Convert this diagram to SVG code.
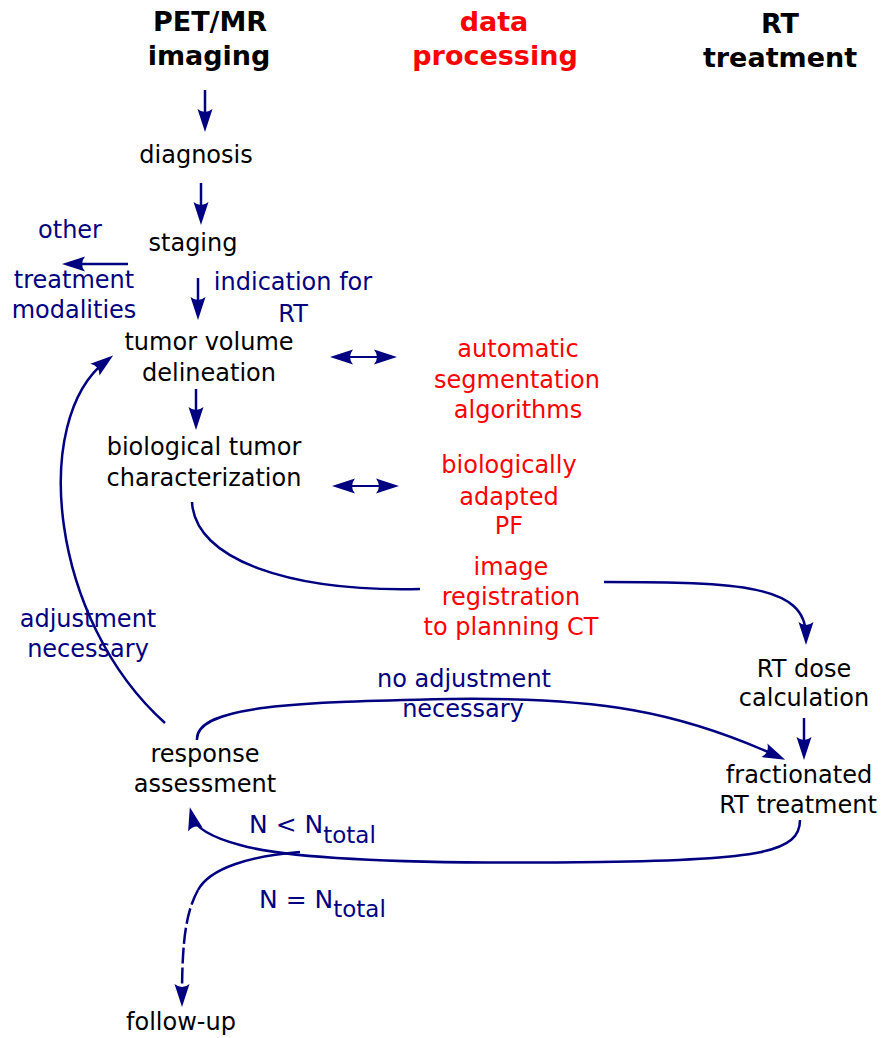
<svg xmlns="http://www.w3.org/2000/svg" width="883" height="1038" viewBox="0 0 883 1038">
<style>
text{font-family:"DejaVu Sans","Liberation Sans",sans-serif;font-size:24px;text-anchor:middle}
.h{font-weight:bold;font-size:27px;fill:#000}
.k{fill:#000}
.n{fill:#000080}
.r{fill:#ff0000}
.c{fill:none;stroke:#000080;stroke-width:2.5}
.d{stroke-width:2}
.s{font-size:25px;text-anchor:start}
</style>
<defs>
<marker id="ah" markerUnits="userSpaceOnUse" markerWidth="40" markerHeight="40" refX="0" refY="0" orient="auto-start-reverse" overflow="visible">
<path d="M9,0 L-14,-7.5 Q-8,0 -14,7.5 Z" fill="#000080"/>
</marker>
</defs>
<g id="headers">
<text class="h" x="210" y="31">PET/MR</text>
<text class="h" x="209" y="65">imaging</text>
<text class="h r" x="494" y="31">data</text>
<text class="h r" x="495" y="65">processing</text>
<text class="h" x="780" y="33">RT</text>
<text class="h" x="780" y="67">treatment</text>
</g>
<g id="diagnosis"><text class="k" x="196" y="163">diagnosis</text></g>
<g id="staging"><text class="k" x="193" y="251">staging</text></g>
<g id="other"><text class="n" x="70" y="238">other</text><text class="n" x="74" y="288">treatment</text><text class="n" x="74" y="318">modalities</text></g>
<g id="indication"><text class="n" x="293" y="290">indication for</text><text class="n" x="293" y="322">RT</text></g>
<g id="tumor"><text class="k" x="209" y="350">tumor volume</text><text class="k" x="209" y="381">delineation</text></g>
<g id="bio"><text class="k" x="204" y="455">biological tumor</text><text class="k" x="204" y="486">characterization</text></g>
<g id="auto"><text class="r" x="518" y="357">automatic</text><text class="r" x="517" y="388">segmentation</text><text class="r" x="518" y="418">algorithms</text></g>
<g id="pf"><text class="r" x="509" y="473">biologically</text><text class="r" x="509" y="505">adapted</text><text class="r" x="509" y="534">PF</text></g>
<g id="registration"><text class="r" x="511" y="575">image</text><text class="r" x="511" y="605">registration</text><text class="r" x="511" y="635">to planning CT</text></g>
<g id="dose"><text class="k" x="804" y="677">RT dose</text><text class="k" x="804" y="706">calculation</text></g>
<g id="noadj"><text class="n" x="464" y="687">no adjustment</text><text class="n" x="463" y="717">necessary</text></g>
<g id="adj"><text class="n" x="88" y="627">adjustment</text><text class="n" x="88" y="657">necessary</text></g>
<g id="response"><text class="k" x="205" y="762">response</text><text class="k" x="205" y="792">assessment</text></g>
<g id="fractionated"><text class="k" x="799" y="783">fractionated</text><text class="k" x="798" y="813">RT treatment</text></g>
<g id="nless"><text class="n s" x="249" y="833">N &lt; N<tspan font-size="23" dy="10">total</tspan></text></g>
<g id="neq"><text class="n s" x="259" y="908">N = N<tspan font-size="23" dy="9">total</tspan></text></g>
<g id="followup"><text class="k" x="181" y="1030">follow-up</text></g>
<g id="connectors">
<path class="c" d="M205,90 V123" marker-end="url(#ah)"/>
<path class="c" d="M201,183 V216" marker-end="url(#ah)"/>
<path class="c" d="M198,278 V311" marker-end="url(#ah)"/>
<path class="c" d="M128,264 H71" marker-end="url(#ah)"/>
<path class="c" d="M196,389 V421" marker-end="url(#ah)"/>
<path class="c d" d="M339,357 H388" marker-start="url(#ah)" marker-end="url(#ah)"/>
<path class="c d" d="M341,486 H390" marker-start="url(#ah)" marker-end="url(#ah)"/>
<path class="c" d="M804,718 V751" marker-end="url(#ah)"/>
<path class="c" d="M192,502 C195,560 290,592 420,589"/>
<path class="c" d="M604,582 C740,582 806,585 806,636" marker-end="url(#ah)"/>
<path class="c" d="M165,723 C50,620 30,420 106,361" marker-end="url(#ah)"/>
<path class="c" d="M197,740 C195,705 300,702 450,699 C600,697 680,712 777,756" marker-end="url(#ah)"/>
<path class="c" d="M800,820 C800,852 760,860 600,862 C450,864 300,862 240,845 C210,837 195,828 192,816" marker-end="url(#ah)"/>
<path class="c" d="M300,852 C250,856 210,868 198,890"/>
<path class="c" d="M198,890 C186,912 182,940 182,998" stroke-dasharray="16 4" marker-end="url(#ah)"/>
</g>
</svg>
